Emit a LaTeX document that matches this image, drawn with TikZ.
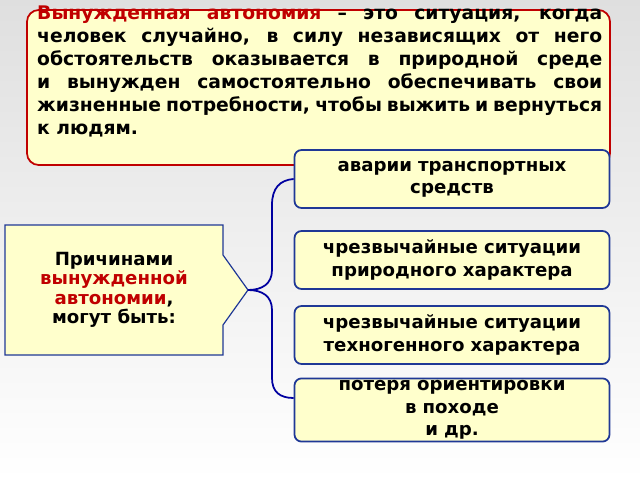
\documentclass[tikz,border=0pt]{standalone}
\usepackage{fontspec}
\setmainfont{DejaVu Sans}
\usepackage{xcolor}
\definecolor{boxfill}{RGB}{255, 255, 204}
\definecolor{redline}{RGB}{192, 0, 0}
\definecolor{blueline}{RGB}{31, 56, 150}
\definecolor{braceblue}{RGB}{0, 0, 160}
\definecolor{textred}{RGB}{192, 0, 0}
\usetikzlibrary{positioning,calc}

\begin{document}
\begin{tikzpicture}[x=0.03cm, y=-0.03cm,
    every node/.style={font=\bfseries},
    causebox/.style={draw=blueline, line width=1.5pt, fill=boxfill, rounded corners=6pt,
        minimum width=315*0.03cm, text width=300*0.03cm, align=center, inner sep=2pt,
        font=\fontsize{15.5}{19}\selectfont\bfseries}]
    % background
    \shade[top color=gray!25, bottom color=white] (0,0) rectangle (640,480);
    \useasboundingbox (0,0) rectangle (640,480);

    % definition
    \draw[redline, line width=1.5pt, fill=boxfill, rounded corners=10pt] (27,10) rectangle (610,165);
    \node[text width=565*0.03cm, align=justify, font=\fontsize{16}{19.5}\selectfont\bfseries,
        anchor=north west, inner sep=0pt] (def) at (37,6)
        {\textcolor{textred}{Вынужденная автономия} – это ситуация, когда человек случайно, в силу независящих от него обстоятельств оказывается в природной среде и вынужден самостоятельно обеспечивать свои жизненные потребности, чтобы выжить и вернуться к людям.};

    % left box with pointer
    \draw[blueline, line width=1pt, fill=boxfill] (5,225) -- (223,225) -- (223,255) -- (248,290)
        -- (223,325) -- (223,355) -- (5,355) -- cycle;
    \node[align=center, font=\fontsize{15.5}{16.5}\selectfont\bfseries] (reason) at (114,290)
        {Причинами\\ \textcolor{textred}{вынужденной}\\ \textcolor{textred}{автономии},\\ могут быть:};

    % causes
    \node[causebox, minimum height=58*0.03cm] (c1) at (452,179) {аварии транспортных средств};
    \node[causebox, minimum height=58*0.03cm] (c2) at (452,260) {чрезвычайные ситуации природного характера};
    \node[causebox, minimum height=58*0.03cm] (c3) at (452,335) {чрезвычайные ситуации техногенного характера};
    \node[causebox, minimum height=58*0.03cm] (c4) at (452,410) {потеря ориентировки в походе\\ и др.};

    % brace
    \coordinate (tip) at (248,290);
    \coordinate (bend) at ($(c4.west)+(0,-12)$);
    \draw[braceblue, line width=1.5pt] (c1.west) .. controls (280,180) and (272,188) .. (272,205)
        -- (272,270) .. controls (272,284) and (262,290) .. (tip)
        .. controls (262,290) and (272,296) .. (272,310)
        -- (272,378) .. controls (272,392) and (280,398) .. (bend);
\end{tikzpicture}
\end{document}
